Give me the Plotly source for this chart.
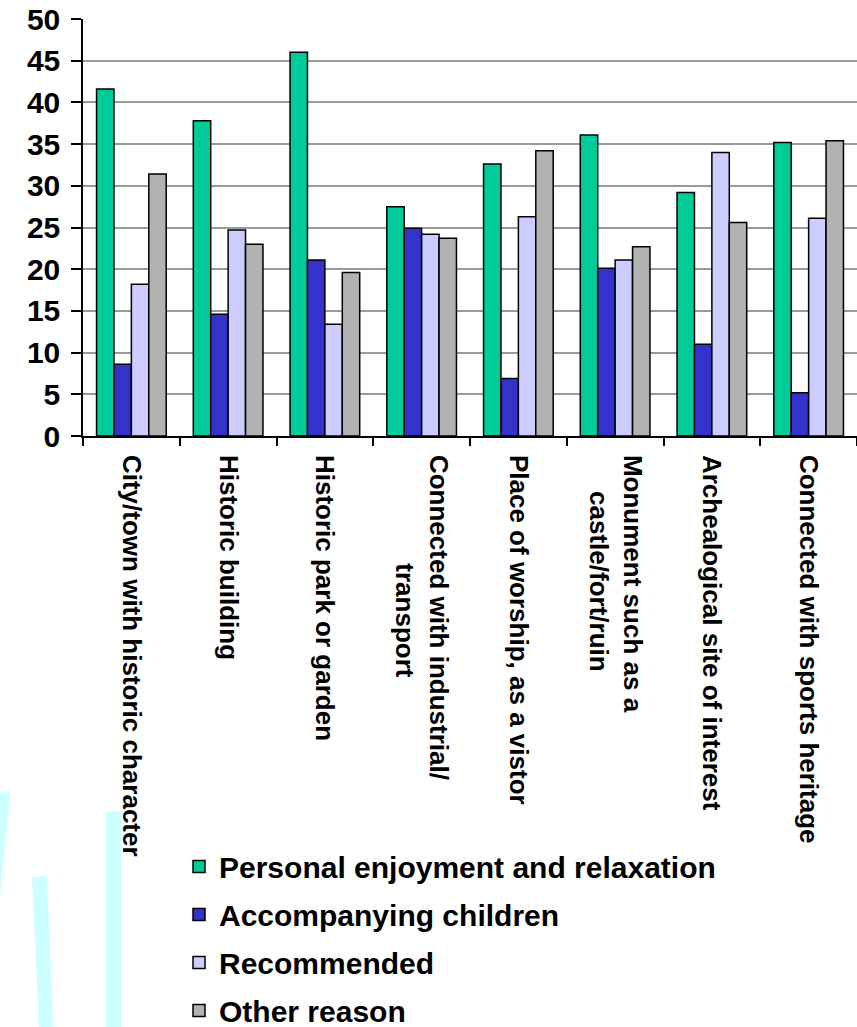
import plotly.graph_objects as go

categories = [
    "City/town with historic character",
    "Historic building",
    "Historic park or garden",
    "Connected with industrial/<br>" + "\u00a0" * 15 + "transport",
    "Place of worship, as a vistor",
    "Monument such as a<br>" + "\u00a0" * 5 + "castle/fort/ruin",
    "Archealogical site of interest",
    "Connected with sports heritage",
]
series_names = [
    "Personal enjoyment and relaxation",
    "Accompanying children",
    "Recommended",
    "Other reason",
]
personal = [41.6, 37.8, 46.0, 27.5, 32.6, 36.1, 29.2, 35.2]
children = [8.6, 14.6, 21.1, 24.9, 6.9, 20.1, 11.0, 5.2]
recommended = [18.2, 24.7, 13.4, 24.2, 26.3, 21.1, 34.0, 26.1]
other = [31.4, 23.0, 19.6, 23.7, 34.2, 22.7, 25.6, 35.4]
colors = ["#00CC99", "#3333CC", "#CCCCFF", "#B2B2B2"]

W, H = 857, 1027
L, T = 83, 19
PW, PH = 774, 416.7
B = H - T - PH

fig = go.Figure()
for i, (name, vals) in enumerate(zip(series_names, [personal, children, recommended, other])):
    fig.add_trace(go.Bar(
        x=categories, y=vals, name=name, legendgroup=f"g{i}",
        marker=dict(color=colors[i], line=dict(color="black", width=1.5)),
    ))

FONT = "Liberation Sans, Arial, sans-serif"


def px2paper(px, py):
    return (px - L) / PW, (T + PH - py) / PH


def poly(points):
    pts = [px2paper(x, y) for x, y in points]
    return "M " + " L ".join(f"{x:.5f},{y:.5f}" for x, y in pts) + " Z"


stripes = [
    [(0, 792), (10, 792), (0, 895)],
    [(32, 877), (47, 875), (53, 1027), (39, 1027)],
    [(106, 811), (121, 811), (121, 1027), (106, 1027)],
]
shapes = [dict(type="path", xref="paper", yref="paper", path=poly(s),
               fillcolor="#CCFFFF", line=dict(width=0), layer="below")
          for s in stripes]

lx, ly = px2paper(179, 840)

fig.update_layout(
    width=W, height=H,
    margin=dict(l=L, r=W - L - PW, t=T, b=B, pad=0, autoexpand=False),
    paper_bgcolor="white", plot_bgcolor="white",
    barmode="group", bargap=0.28, bargroupgap=0,
    font=dict(family=FONT, color="black", weight="bold"),
    shapes=shapes,
    showlegend=True,
    legend=dict(x=lx, y=ly, xanchor="left", yanchor="top",
                font=dict(size=30, family=FONT, weight="bold", color="black"),
                tracegroupgap=6, bgcolor="rgba(0,0,0,0)"),
    xaxis=dict(
        type="category", tickangle=90, tickson="boundaries",
        ticks="outside", ticklen=8, tickwidth=1.5, tickcolor="black",
        showline=True, linecolor="black", linewidth=1.5,
        tickfont=dict(size=26, family=FONT, weight="bold", color="black"),
        showgrid=False, fixedrange=True, automargin=False,
        ticklabelstandoff=12,
    ),
    yaxis=dict(
        range=[0, 50], dtick=5, tick0=0,
        ticks="outside", ticklen=10, tickwidth=1.5, tickcolor="black",
        showline=True, linecolor="black", linewidth=1.5,
        showgrid=True, gridcolor="#999999", gridwidth=1.5,
        zeroline=False, automargin=False,
        tickfont=dict(size=30, family=FONT, weight="bold", color="black"),
        ticklabelstandoff=5,
    ),
)

fig.write_html("out.html")
